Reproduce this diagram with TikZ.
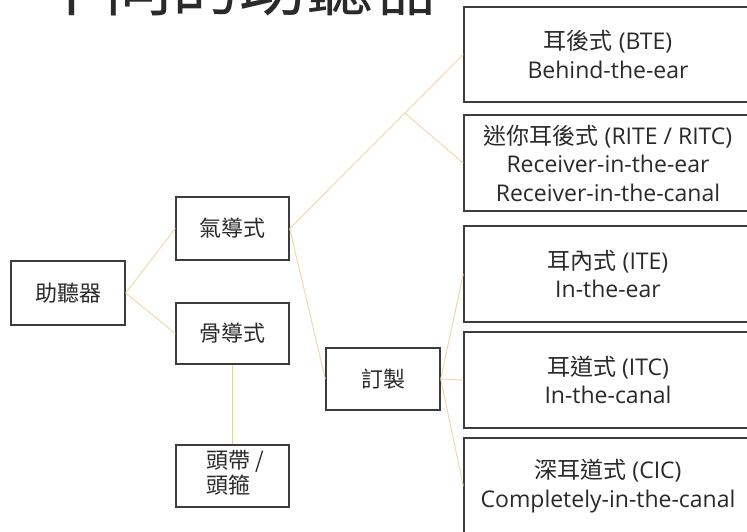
\documentclass[tikz,border=0pt]{standalone}
\usepackage{fontspec}
\setmainfont{Open Sans}
\newfontfamily\cjk{Noto Sans CJK TC}
\usetikzlibrary{calc}
\definecolor{boxline}{HTML}{3C3C3C}
\definecolor{linkc}{HTML}{F0D7A8}
\definecolor{linky}{HTML}{E6D870}
\definecolor{txt}{HTML}{2A2A2A}
\tikzset{
  box/.style={draw=boxline, line width=1.4pt, fill=white, text=txt, align=center,
    font=\fontsize{22}{26}\selectfont, inner sep=0pt},
  smallbox/.style={box, minimum width=113pt, minimum height=62pt},
  bigbox/.style={box, minimum width=288pt, minimum height=96pt, font=\fontsize{23}{28.5}\selectfont},
  link/.style={draw=linkc, line width=0.9pt},
  linkv/.style={draw=linky, line width=0.9pt},
}
\begin{document}
\begin{tikzpicture}[x=1pt,y=-1pt]
\useasboundingbox (0,0) rectangle (747,531);
\fill[white] (0,0) rectangle (747,531);
% title, cut off at the top edge as in the reference
\node[anchor=base west, inner sep=0pt, text=txt, font=\cjk\fontsize{67}{67}\selectfont] (title) at (38,10) {不同的助聽器};
% nodes
\node[smallbox, minimum width=114pt, minimum height=64pt] (hear) at (68,293) {\cjk 助聽器};
\node[smallbox, minimum height=63pt] (air) at (232.5,228.5) {\cjk 氣導式};
\node[smallbox, minimum height=61pt] (bone) at (232.5,333.5) {\cjk 骨導式};
\node[smallbox] (band) at (232.5,476) {\hspace*{5pt}\begin{tabular}{@{}l@{}}\cjk 頭帶 /\\[-1pt]\cjk 頭箍\end{tabular}};
\node[smallbox, minimum width=114pt] (custom) at (383,379) {\cjk 訂製};
\node[bigbox, minimum height=95pt] (bte) at (608,54.5) {{\cjk 耳後式} (BTE)\\Behind-the-ear};
\node[bigbox] (rite) at (608,163) {{\cjk 迷你耳後式} (RITE / RITC)\\Receiver-in-the-ear\\Receiver-in-the-canal};
\node[bigbox] (ite) at (608,274) {{\cjk 耳內式} (ITE)\\In-the-ear};
\node[bigbox] (itc) at (608,380) {{\cjk 耳道式} (ITC)\\In-the-canal};
\node[bigbox] (cic) at (608,486) {{\cjk 深耳道式} (CIC)\\Completely-in-the-canal};
% connectors
\coordinate (fork) at ($(air.east)!0.663!(bte.west)$);
\draw[link] (hear.east) -- (air.west);
\draw[link] (hear.east) -- (bone.west);
\draw[link] (air.east) -- (bte.west);
\draw[link] (fork) -- (rite.west);
\draw[link] (air.east) -- (custom.west);
\draw[link] (custom.east) -- (ite.west);
\draw[link] (custom.east) -- (itc.west);
\draw[link] (custom.east) -- (cic.west);
\draw[linkv] (bone.south) -- (band.north);
\end{tikzpicture}
\end{document}
